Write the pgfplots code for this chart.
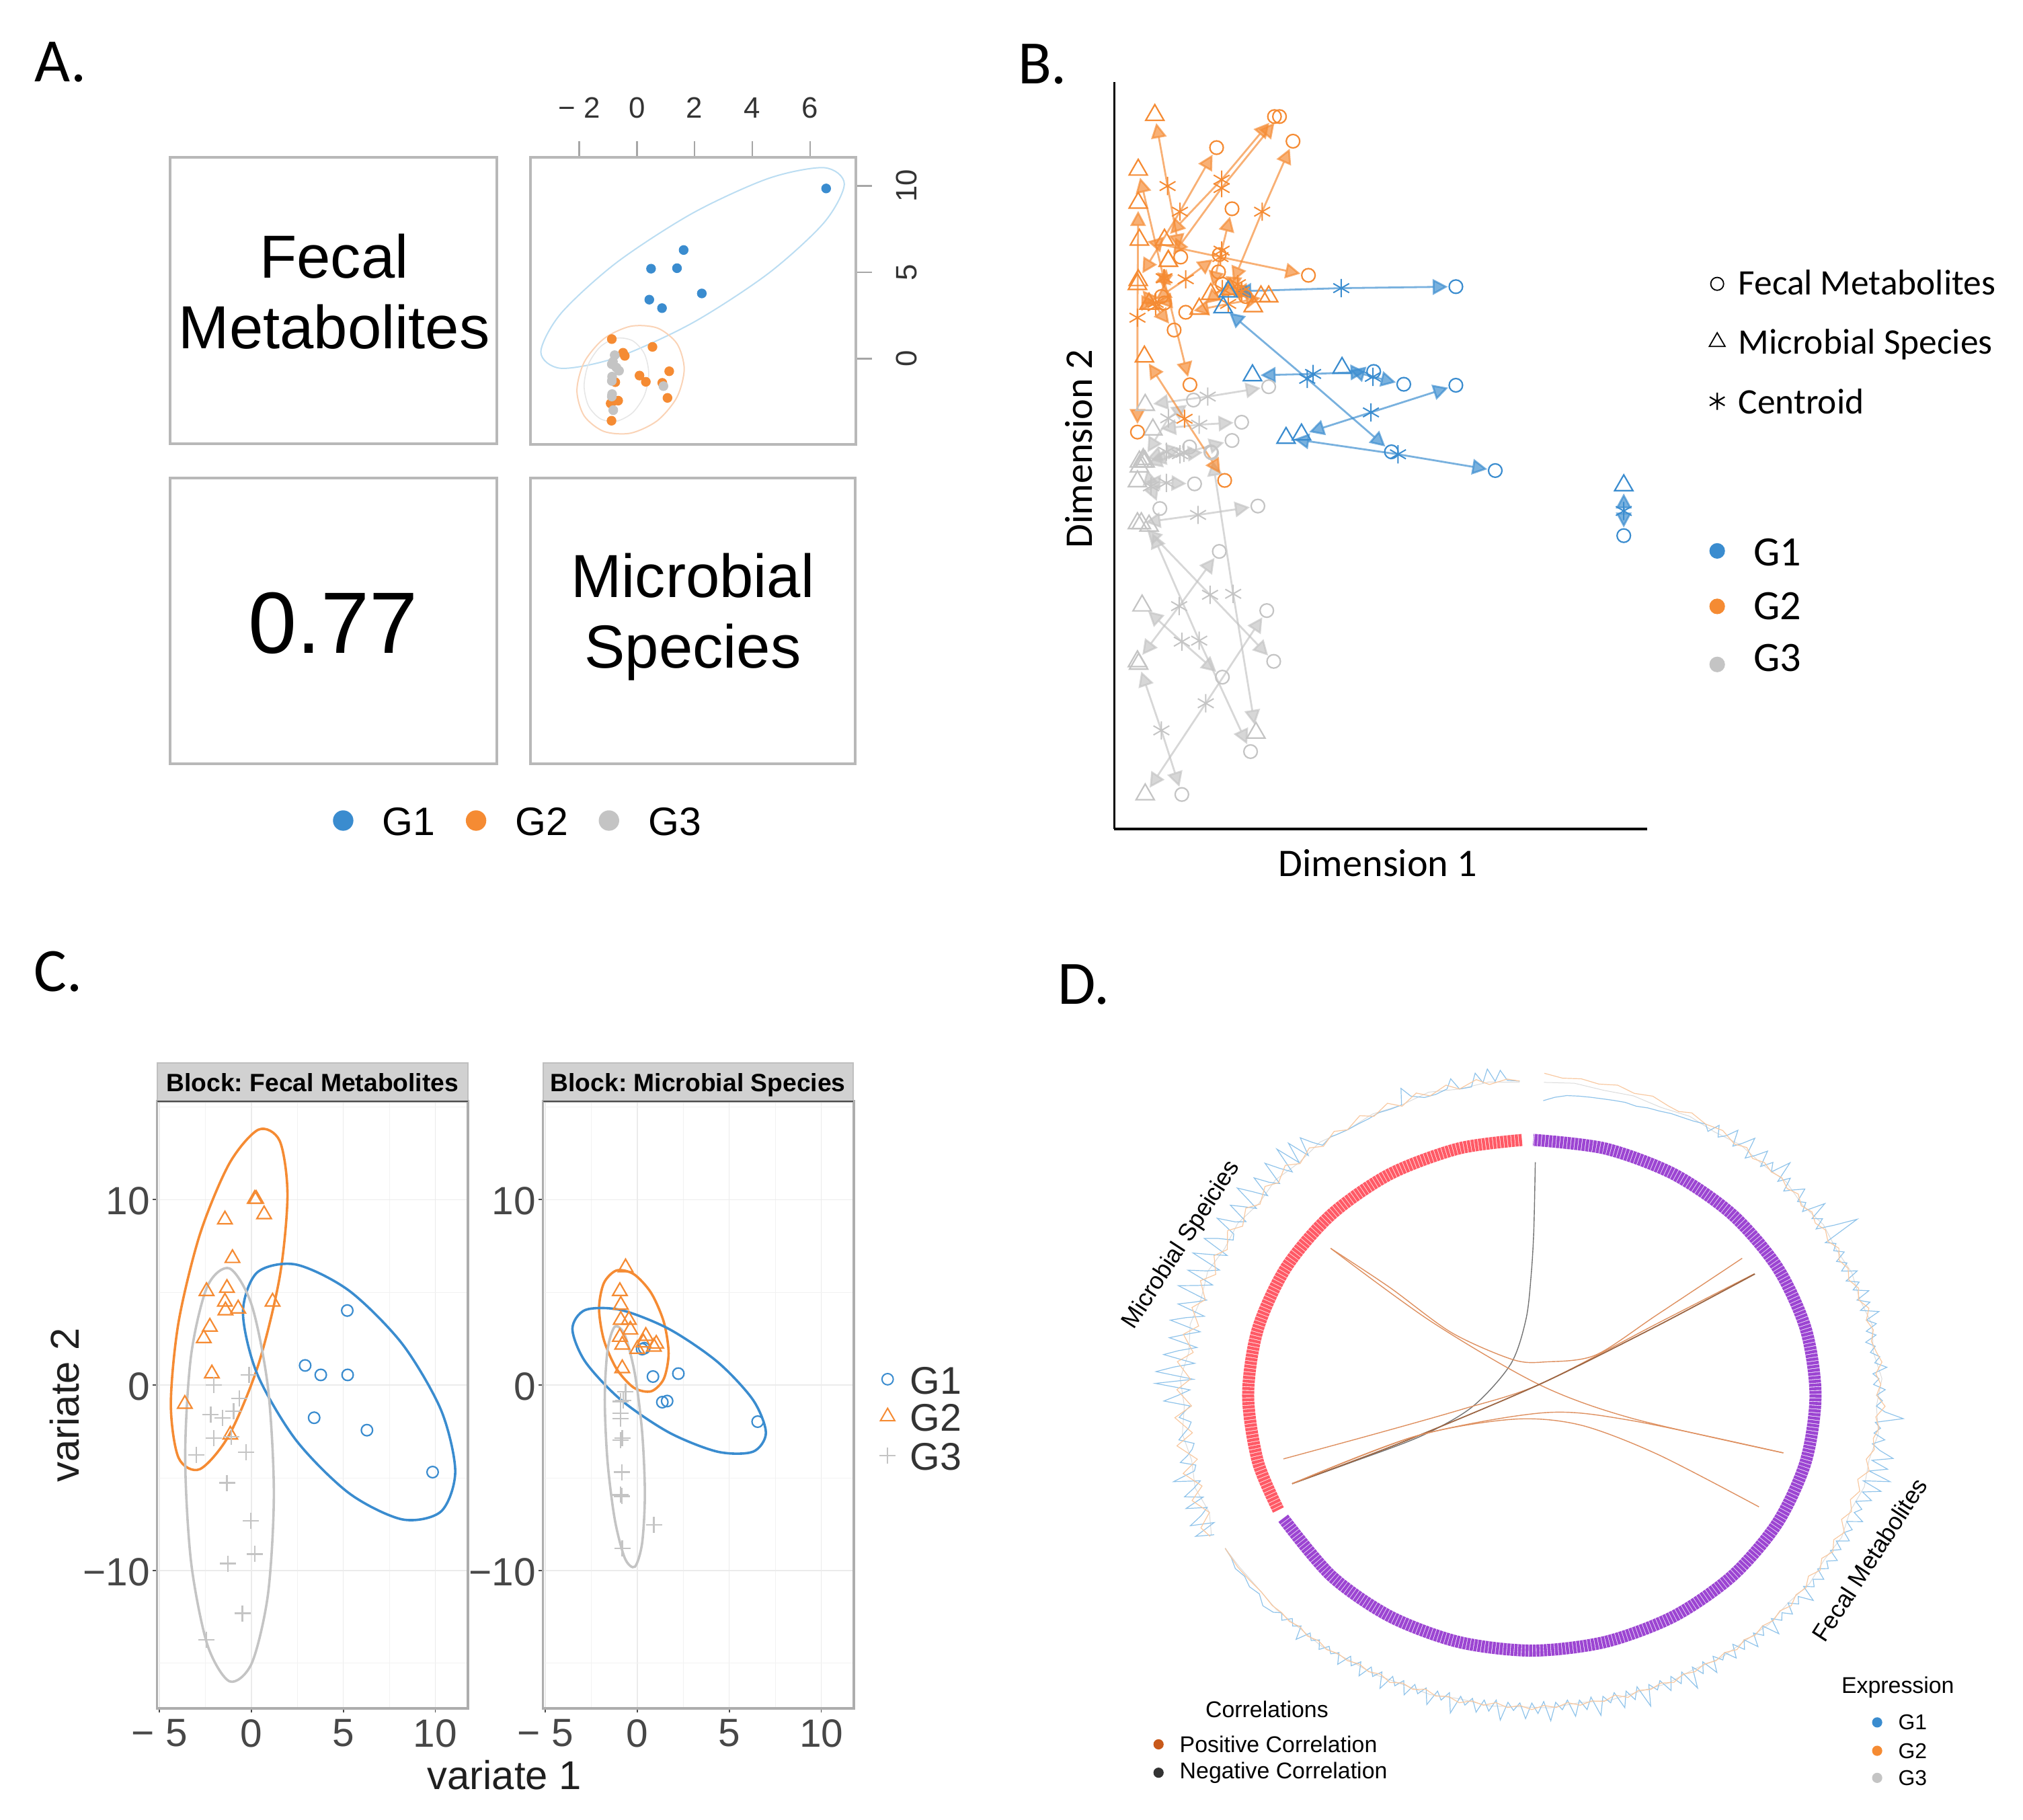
\documentclass[border=0pt]{standalone}
\usepackage{fontspec}
\usepackage{pgfplots}
\pgfplotsset{compat=1.18}
\usetikzlibrary{arrows.meta}
\setmainfont{Liberation Sans}
\newfontfamily\carlito{Carlito}
\definecolor{cb}{HTML}{3A8CCF}
\definecolor{co}{HTML}{F58B33}
\definecolor{cg}{HTML}{C4C4C4}
\definecolor{lb}{HTML}{BBDDF2}
\definecolor{lo}{HTML}{FAD3B6}
\definecolor{lg}{HTML}{E6E6E6}
\definecolor{chord}{HTML}{DE9060}
\definecolor{cpos}{HTML}{C8591A}
\definecolor{tb}{HTML}{8FC3EA}
\definecolor{to}{HTML}{F8C8A0}
\definecolor{ringr}{HTML}{FF5A66}
\definecolor{ringp}{HTML}{9C45D2}
\newcommand{\fs}[1]{\fontsize{#1}{#1}\selectfont}
\newcommand{\bseg}[4]{%
 \addplot[#1,line width=.7bp,opacity=.68,shorten <=3bp,shorten >=3bp,{Triangle[length=5.6bp,width=5.8bp]}-{Triangle[length=5.6bp,width=5.8bp]}] coordinates {#2 #3 #4};
 \addplot[#1,only marks,mark=triangle,mark size=3.9bp,mark options={line width=.55bp,fill=none}] coordinates {#2};
 \addplot[#1,only marks,mark=asterisk,mark size=3.4bp,mark options={line width=.5bp}] coordinates {#3};
 \addplot[#1,only marks,mark=o,mark size=2.5bp,mark options={line width=.55bp,fill=none}] coordinates {#4};
}
\pgfplotsset{
 facet/.style={scale only axis,width=115.6bp,height=225.75bp,xmin=-5.13,xmax=11.77,ymin=-17.43,ymax=15.3,
  xtick={-5,0,5,10},xticklabels={−\;5,0,5,10},ytick={-10,0,10},yticklabels={−10,0,10},
  minor xtick={-2.5,2.5,7.5},minor ytick={-15,-5,5,15},grid=both,
  major grid style={color=black!8,line width=.35bp},minor grid style={color=black!5,line width=.25bp},
  tick align=outside,xtick pos=bottom,ytick pos=left,major tick length=1.6bp,minor tick length=0pt,
  tick style={color=black!70,line width=.4bp},
  axis line style={color=black!32,line width=.9bp},
  xticklabel style={font=\fs{14.7},text=black!72,yshift=1bp},
  yticklabel style={font=\fs{14.7},text=black!72,xshift=2.5bp,yshift=-.5bp},clip=false},
 ell/.style={smooth cycle,line width=.9bp,mark=none},
 pc/.style={only marks,mark=o,color=cb,mark size=2.1bp,mark options={line width=.55bp,fill=none}},
 pt/.style={only marks,mark=triangle,color=co,mark size=3.1bp,mark options={line width=.55bp,fill=none}},
 pp/.style={only marks,mark=+,color=cg,mark size=3bp,mark options={line width=.55bp}},
}
\begin{document}
\frenchspacing
\begin{tikzpicture}
\path[use as bounding box] (0,0) rectangle (752.25bp,-676.75bp);
% ---------- A
\begin{axis}[at={(197.25bp,-58.5bp)},anchor=north west,scale only axis,width=121bp,height=106.75bp,
 xmin=-3.69,xmax=7.59,ymin=-4.95,ymax=11.65,xtick={-2,0,2,4,6},xticklabels={−\;2,0,2,4,6},ytick={0,5,10},yticklabels={0,5,10},
 xtick pos=top,xticklabel pos=top,ytick pos=right,yticklabel pos=right,tick align=outside,major tick length=6bp,
 tick style={color=black!35,line width=.6bp},axis line style={color=black!28,line width=1bp},
 xticklabel style={font=\fs{11},text=black!80,yshift=5bp},
 yticklabel style={font=\fs{11},text=black!80,rotate=90,anchor=north,yshift=-5.5bp},clip=false]
\addplot[ell,color=lb,line width=.5bp] coordinates {(7.19,10.11)(6.49,11.05)(4.56,10.43)(1.93,8.42)(-.70,5.57)(-2.63,2.63)(-3.33,.39)(-2.63,-.55)(-.70,.075)(1.93,2.08)(4.56,4.94)(6.49,7.88)};
\addplot[ell,color=lo,line width=.5bp] coordinates {(1.64,-.585)(1.39,.875)(.71,1.78)(-.22,1.88)(-1.15,1.155)(-1.83,-.205)(-2.08,-1.835)(-1.83,-3.295)(-1.15,-4.195)(-.22,-4.30)(.71,-3.575)(1.39,-2.215)};
\addplot[ell,color=lg,line width=.4bp] coordinates {(.41,-.86)(.26,.29)(-.15,1.045)(-.71,1.19)(-1.27,.695)(-1.68,-.31)(-1.83,-1.56)(-1.68,-2.71)(-1.27,-3.465)(-.71,-3.61)(-.15,-3.115)(.26,-2.11)};
\addplot[only marks,mark=*,color=cb,mark size=1.6bp] coordinates {(6.56,9.85)(1.62,6.29)(.49,5.21)(1.39,5.24)(2.25,3.78)(.43,3.42)(.87,2.93)};
\addplot[only marks,mark=*,color=co,mark size=1.6bp] coordinates {(-.87,1.14)(.54,.69)(-.48,.35)(-.42,.17)(1.12,-.72)(.09,-.97)(.31,-1.33)(.88,-1.39)(-.75,-1.35)(1.06,-2.26)(-.65,-2.42)(-.83,-2.46)(-.91,-2.58)(-.88,-3.58)};
\addplot[only marks,mark=*,color=cg,mark size=1.6bp] coordinates {(-.77,.21)(-.83,-.17)(-.87,-.31)(-.62,-.69)(-.71,-.51)(-.86,-1.03)(-.87,-1.28)(-.86,-2.04)(-.87,-2.18)(-.82,-2.97)(.92,-1.58)};
\end{axis}
% ---------- B
\begin{axis}[at={(414.35bp,-30.5bp)},anchor=north west,scale only axis,width=198.05bp,height=277.75bp,
 xmin=100,xmax=1480,ymin=30,ymax=1545,y dir=reverse,axis x line=bottom,axis y line=left,
 axis line style={-,color=black,line width=.8bp},xtick=\empty,ytick=\empty,clip=false]
\bseg{cg}{(180,685)}{(342,668)}{(500,648)}
\bseg{cg}{(200,735)}{(320,725)}{(430,720)}
\bseg{cg}{(165,800)}{(235,780)}{(295,770)}
\bseg{cg}{(165,810)}{(280,782)}{(405,757)}
\bseg{cg}{(175,795)}{(240,712)}{(305,675)}
\bseg{cg}{(160,840)}{(235,843)}{(308,845)}
\bseg{cg}{(180,800)}{(195,850)}{(218,895)}
\bseg{cg}{(160,925)}{(317,908)}{(472,890)}
\bseg{cg}{(175,800)}{(270,785)}{(350,780)}
\bseg{cg}{(160,1205)}{(268,1093)}{(372,982)}
\bseg{cg}{(172,1092)}{(275,1165)}{(380,1237)}
\bseg{cg}{(170,925)}{(348,1070)}{(513,1205)}
\bseg{cg}{(190,930)}{(320,1163)}{(453,1388)}
\bseg{cg}{(163,1210)}{(222,1345)}{(275,1475)}
\bseg{cg}{(180,1475)}{(337,1290)}{(495,1102)}
\bseg{cg}{(467,1350)}{(408,1068)}{(352,782)}
\bseg{co}{(205,97)}{(238,241)}{(272,385)}
\bseg{co}{(162,208)}{(228,428)}{(296,644)}
\bseg{co}{(162,275)}{(160,508)}{(160,740)}
\bseg{co}{(178,587)}{(282,713)}{(386,838)}
\bseg{co}{(165,350)}{(375,385)}{(603,422)}
\bseg{co}{(230,350)}{(378,228)}{(515,100)}
\bseg{co}{(162,432)}{(270,293)}{(365,163)}
\bseg{co}{(240,393)}{(378,245)}{(528,100)}
\bseg{co}{(190,480)}{(285,430)}{(372,380)}
\bseg{co}{(400,450)}{(483,293)}{(563,150)}
\bseg{co}{(350,460)}{(378,372)}{(405,287)}
\bseg{co}{(160,440)}{(207,485)}{(255,533)}
\bseg{co}{(500,465)}{(395,480)}{(285,497)}
\bseg{co}{(460,485)}{(420,440)}{(370,415)}
\bseg{co}{(480,465)}{(430,455)}{(380,440)}
\bseg{co}{(320,490)}{(380,450)}{(440,465)}
\bseg{co}{(190,480)}{(207,478)}{(230,478)}
\bseg{co}{(240,393)}{(230,428)}{(222,465)}
\bseg{cb}{(382,487)}{(600,632)}{(818,780)}
\bseg{cb}{(395,455)}{(688,448)}{(985,445)}
\bseg{cb}{(458,625)}{(615,622)}{(772,617)}
\bseg{cb}{(690,610)}{(770,628)}{(850,643)}
\bseg{cb}{(585,745)}{(765,700)}{(985,645)}
\bseg{cb}{(545,752)}{(835,785)}{(1087,818)}
\bseg{cb}{(1420,848)}{(1420,900)}{(1420,950)}
\end{axis}
% ---------- C left
\begin{axis}[facet,at={(58.4bp,-409.5bp)},anchor=north west]
\addplot[ell,color=co] coordinates {(1.96,10.26)(1.54,13.16)(.38,13.77)(-1.21,11.93)(-2.80,8.13)(-3.96,3.40)(-4.38,-1.02)(-3.96,-3.92)(-2.80,-4.53)(-1.21,-2.69)(.38,1.11)(1.54,5.85)};
\addplot[ell,color=cb] coordinates {(11.08,-4.65)(10.31,-1.35)(8.2,2.22)(5.31,5.09)(2.42,6.5)(.31,6.07)(-.46,3.91)(.31,.61)(2.42,-2.96)(5.31,-5.83)(8.2,-7.24)(10.31,-6.81)};
\addplot[ell,color=cg] coordinates {(1.22,-5.85)(.90,-.14)(.02,4.30)(-1.19,6.29)(-2.40,5.31)(-3.28,1.6)(-3.6,-3.83)(-3.28,-9.54)(-2.40,-13.98)(-1.19,-15.97)(.02,-14.99)(.90,-11.28)};
\addplot[pc] coordinates {(5.21,4.02)(2.92,1.06)(3.77,.55)(5.23,.55)(3.41,-1.76)(6.28,-2.43)(9.85,-4.69)};
\addplot[pt] coordinates {(.18,10.03)(.26,10.03)(-1.44,8.92)(.69,9.2)(-1.03,6.84)(-2.44,5.06)(-1.33,5.23)(-1.44,4.49)(-1.41,4.02)(-.72,4.12)(1.15,4.49)(-2.26,3.14)(-2.59,2.52)(-2.15,.62)(-3.62,-1.02)(-1.15,-2.68)};
\addplot[pp] coordinates {(-.13,.55)(-2.05,0)(-.67,-.72)(-.97,-1.41)(-2.21,-1.6)(-1.56,-1.76)(-2.05,-2.87)(-1.1,-2.8)(-3,-3.75)(-.28,-3.63)(-1.33,-5.27)(-.03,-7.31)(.18,-9.11)(-1.28,-9.62)(-.49,-12.3)(-2.44,-13.73)};
\end{axis}
% ---------- C right
\begin{axis}[facet,at={(201.9bp,-409.5bp)},anchor=north west]
\addplot[ell,color=co] coordinates {(1.70,1.71)(1.44,3.40)(.75,4.97)(-.19,5.98)(-1.13,6.18)(-1.82,5.5)(-2.08,4.13)(-1.82,2.44)(-1.13,.88)(-.19,-.14)(.75,-.335)(1.44,.34)};
\addplot[ell,color=cb] coordinates {(6.99,-2.57)(6.29,-.80)(4.36,1.25)(1.73,3.02)(-.90,4.05)(-2.83,4.05)(-3.53,3.03)(-2.83,1.26)(-.90,-.79)(1.73,-2.56)(4.36,-3.59)(6.29,-3.59)};
\addplot[ell,color=cg] coordinates {(.41,-5.86)(.26,-2.52)(-.135,.61)(-.68,2.69)(-1.225,3.15)(-1.62,1.88)(-1.77,-.78)(-1.62,-4.12)(-1.225,-7.25)(-.68,-9.33)(-.135,-9.79)(.26,-8.52)};
\addplot[pc] coordinates {(.85,.46)(2.23,.62)(.26,1.94)(1.36,-.92)(1.62,-.86)(6.54,-1.97)(.38,1.99)};
\addplot[pt] coordinates {(-.64,6.34)(-.95,5.06)(-.9,4.32)(-.9,3.51)(-.46,3.51)(-.38,2.98)(-.95,2.59)(-.82,2.17)(-.82,.9)(.46,2.64)(.33,2.29)(0,1.94)(1.03,2.22)(.9,2.06)};
\addplot[pp] coordinates {(-.64,-.37)(-.9,-.88)(-.9,-1.53)(-.9,-1.8)(-.82,-2.87)(-.9,-2.96)(-.85,-4.69)(-.9,-5.92)(-.85,-5.99)(.9,-7.54)(-.82,-8.81)(-.77,-.83)};
\end{axis}
% ---------- D
\begin{axis}[at={(418.75bp,-383bp)},anchor=north west,scale only axis,width=301.7bp,height=271.6bp,
 xmin=-1.4,xmax=1.4,ymin=-1.4,ymax=1.4,hide axis,clip=false]
% ring
\addplot[smooth,mark=none,color=ringr,line width=4.5bp,dash pattern=on 1.15bp off .22bp,data cs=polar] coordinates {(92,.979)(105,.979)(120,.979)(135,.979)(150,.979)(165,.979)(180,.979)(195,.979)(206.7,.979)};
\addplot[smooth,mark=none,color=ringp,line width=4.5bp,dash pattern=on 1.15bp off .22bp,data cs=polar] coordinates {(208.8,.979)(225,.979)(240,.979)(255,.979)(270,.979)(285,.979)(300,.979)(315,.979)(330,.979)(345,.979)(360,.979)(375,.979)(390,.979)(405,.979)(420,.979)(435,.979)(449.7,.979)};
% chords
\addplot[smooth,mark=none,color=black!55,line width=.35bp] coordinates {(.012,.893)(.007,.637)(-.002,.465)(-.02,.292)(-.073,.119)(-.206,-.045)(-.383,-.157)(-.632,-.261)(-.827,-.339)};
\addplot[smooth,mark=none,color=chord,line width=.35bp] coordinates {(-.694,.563)(-.49,.413)(-.277,.24)(-.064,.136)(.051,.128)(.22,.154)(.433,.309)(.726,.525)};
\addplot[smooth,mark=none,color=chord,line width=.35bp] coordinates {(-.694,.563)(-.348,.283)(.025,.041)(.344,-.088)(.868,-.221)};
\addplot[smooth,mark=none,color=chord,line width=.35bp] coordinates {(-.857,-.244)(-.543,-.149)(-.241,-.054)(.025,.041)(.433,.275)(.767,.465)};
\addplot[smooth,mark=none,color=chord!70!black,line width=.45bp] coordinates {(-.827,-.339)(-.454,-.183)(.025,.041)(.433,.266)(.77,.465)};
\addplot[smooth,mark=none,color=chord,line width=.35bp] coordinates {(-.827,-.339)(-.401,-.157)(.043,-.067)(.344,-.097)(.868,-.221)};
\addplot[smooth,mark=none,color=chord,line width=.35bp] coordinates {(-.827,-.339)(-.401,-.157)(-.064,-.092)(.167,-.114)(.433,-.226)(.784,-.428)};
% expression, grey
\addplot[mark=none,color=black!14,line width=.25bp,data cs=polar] coordinates {(88,1.2)(83,1.205)(78,1.195)(73,1.2)(68,1.19)(63,1.2)(58,1.19)(53,1.2)(48,1.19)(43,1.2)(38,1.185)(33,1.2)(28,1.19)(23,1.2)(18,1.19)(13,1.205)(8,1.19)(3,1.21)(-2,1.19)(-7,1.205)(-12,1.19)(-17,1.2)(-22,1.185)(-27,1.2)(-32,1.19)(-37,1.2)(-42,1.19)(-47,1.2)(-52,1.195)(-57,1.2)(-62,1.19)(-67,1.2)(-72,1.195)(-77,1.2)(-82,1.19)(-87,1.2)(-92,1.195)(-97,1.2)(-102,1.19)(-107,1.2)(-112,1.195)(-117,1.2)(-122,1.195)(-127,1.205)(-132,1.2)(-137,1.205)(-142,1.2)(-147,1.205)(-151,1.21)};
\addplot[mark=none,color=black!14,line width=.25bp,data cs=polar] coordinates {(92,1.2)(97,1.21)(102,1.2)(107,1.215)(112,1.2)(117,1.21)(122,1.2)(127,1.215)(132,1.2)(137,1.21)(142,1.195)(147,1.21)(152,1.2)(157,1.215)(162,1.2)(167,1.21)(172,1.195)(177,1.215)(182,1.2)(187,1.215)(192,1.2)(197,1.215)(202,1.2)(206,1.23)};
% expression, blue
\addplot[mark=none,color=tb,line width=.3bp,data cs=polar] coordinates {(88,1.13)(86,1.145)(84,1.155)(82,1.158)(80,1.16)(78,1.162)(76,1.165)(74,1.168)(72,1.165)(70,1.172)(68,1.175)(66,1.182)(64,1.185)(62,1.19)(60,1.2)(59,1.18)(58,1.22)(57,1.18)(56,1.2)(55,1.24)(54,1.18)(53,1.21)(52,1.25)(51,1.17)(50,1.2)(49,1.24)(48,1.18)(47,1.22)(46,1.19)(45,1.26)(44,1.18)(43,1.22)(42,1.17)(41,1.2)(40,1.23)(39,1.18)(38,1.2)(37,1.17)(36,1.25)(35,1.18)(34,1.21)(33,1.17)(32,1.23)(31,1.31)(30,1.17)(29,1.2)(28,1.18)(27,1.21)(26,1.17)(25,1.2)(24,1.17)(23,1.22)(22,1.17)(21,1.21)(20,1.18)(19,1.23)(18,1.18)(17,1.22)(16,1.18)(15,1.24)(14,1.19)(13,1.22)(12,1.18)(11,1.21)(10,1.17)(9,1.2)(8,1.18)(7,1.21)(6,1.19)(5,1.23)(4,1.18)(3,1.2)(2,1.18)(1,1.22)(0,1.19)(-1,1.21)(-2,1.19)(-3,1.22)(-4,1.285)(-5,1.19)(-6,1.21)(-7,1.19)(-8,1.23)(-9,1.19)(-10,1.22)(-11,1.27)(-12,1.2)(-13,1.26)(-14,1.2)(-15,1.28)(-16,1.19)(-17,1.26)(-18,1.2)(-19,1.24)(-20,1.19)(-21,1.22)(-22,1.2)(-23,1.24)(-24,1.19)(-25,1.22)(-26,1.2)(-27,1.23)(-28,1.19)(-29,1.22)(-30,1.19)(-31,1.23)(-32,1.2)(-33,1.22)(-34,1.19)(-35,1.23)(-36,1.2)(-37,1.22)(-38,1.19)(-39,1.25)(-40,1.2)(-41,1.22)(-42,1.19)(-43,1.23)(-44,1.2)(-45,1.22)(-46,1.19)(-47,1.25)(-48,1.19)(-49,1.22)(-50,1.19)(-51,1.24)(-52,1.19)(-53,1.22)(-54,1.18)(-55,1.23)(-56,1.19)(-57,1.21)(-58,1.18)(-59,1.24)(-60,1.18)(-61,1.22)(-62,1.18)(-63,1.26)(-64,1.18)(-65,1.22)(-66,1.18)(-67,1.23)(-68,1.18)(-69,1.21)(-70,1.18)(-71,1.26)(-72,1.175)(-73,1.22)(-74,1.18)(-75,1.24)(-76,1.175)(-77,1.21)(-78,1.18)(-79,1.25)(-80,1.175)(-81,1.22)(-82,1.18)(-83,1.24)(-84,1.175)(-85,1.21)(-86,1.18)(-87,1.25)(-88,1.175)(-89,1.22)(-90,1.18)(-91,1.24)(-92,1.18)(-93,1.21)(-94,1.18)(-95,1.25)(-96,1.175)(-97,1.22)(-98,1.18)(-99,1.23)(-100,1.18)(-101,1.21)(-102,1.18)(-103,1.25)(-104,1.175)(-105,1.21)(-106,1.18)(-107,1.24)(-108,1.18)(-109,1.21)(-110,1.18)(-111,1.23)(-112,1.18)(-113,1.21)(-114,1.18)(-115,1.24)(-116,1.18)(-117,1.21)(-118,1.18)(-119,1.23)(-120,1.18)(-121,1.21)(-122,1.18)(-123,1.23)(-124,1.19)(-125,1.21)(-126,1.19)(-127,1.22)(-128,1.19)(-129,1.21)(-130,1.19)(-131,1.24)(-132,1.19)(-133,1.21)(-134,1.19)(-135,1.22)(-136,1.2)(-137,1.22)(-139,1.23)(-141,1.21)(-143,1.22)(-145,1.21)(-147,1.22)(-149,1.21)(-151,1.21)};
\addplot[mark=none,color=tb,line width=.3bp,data cs=polar] coordinates {(92,1.205)(94,1.21)(95,1.25)(96,1.21)(97,1.26)(98,1.21)(99,1.25)(100,1.2)(102,1.2)(103,1.245)(104,1.21)(106,1.2)(108,1.2)(110,1.22)(111,1.26)(112,1.2)(114,1.2)(116,1.205)(118,1.2)(120,1.2)(122,1.2)(124,1.205)(125,1.21)(127,1.2)(128,1.23)(129,1.27)(130,1.2)(131,1.28)(132,1.2)(133,1.29)(134,1.19)(135,1.23)(136,1.28)(137,1.19)(138,1.22)(139,1.27)(140,1.19)(141,1.24)(142,1.29)(143,1.19)(144,1.23)(145,1.27)(146,1.19)(147,1.22)(148,1.28)(149,1.2)(150,1.19)(151,1.24)(152,1.28)(153,1.18)(154,1.23)(155,1.29)(156,1.18)(157,1.22)(158,1.28)(159,1.18)(160,1.23)(161,1.29)(162,1.18)(163,1.22)(164,1.27)(165,1.17)(166,1.23)(167,1.28)(168,1.17)(169,1.22)(170,1.27)(171,1.17)(172,1.23)(173,1.28)(174,1.17)(175,1.24)(176,1.3)(177,1.17)(178,1.3)(179,1.18)(180,1.22)(181,1.27)(182,1.18)(183,1.2)(184,1.22)(185,1.18)(186,1.19)(187,1.21)(188,1.23)(189,1.18)(190,1.19)(191,1.21)(192,1.24)(193,1.19)(194,1.2)(195,1.28)(196,1.19)(197,1.22)(198,1.26)(199,1.2)(200,1.27)(201,1.2)(202,1.23)(203,1.28)(204,1.2)(205,1.28)(206,1.22)};
% expression, orange
\addplot[mark=none,color=to,line width=.3bp,data cs=polar] coordinates {(88,1.235)(85,1.22)(82,1.225)(79,1.215)(76,1.225)(73,1.21)(70,1.22)(67,1.205)(65,1.2)(63,1.215)(60,1.2)(57,1.21)(54,1.19)(52,1.205)(50,1.185)(48,1.2)(46,1.19)(44,1.2)(42,1.185)(40,1.2)(38,1.18)(36,1.195)(34,1.18)(32,1.195)(30,1.18)(28,1.2)(26,1.18)(24,1.195)(22,1.18)(20,1.2)(18,1.185)(16,1.21)(14,1.19)(12,1.205)(10,1.19)(8,1.2)(6,1.215)(4,1.19)(2,1.205)(0,1.19)(-2,1.22)(-4,1.19)(-6,1.205)(-8,1.19)(-10,1.2)(-12,1.18)(-14,1.2)(-16,1.17)(-18,1.19)(-20,1.17)(-22,1.19)(-24,1.17)(-26,1.2)(-28,1.18)(-30,1.2)(-32,1.18)(-34,1.2)(-36,1.18)(-38,1.2)(-40,1.19)(-42,1.205)(-44,1.19)(-46,1.2)(-48,1.19)(-50,1.2)(-52,1.19)(-54,1.205)(-56,1.19)(-58,1.2)(-60,1.19)(-62,1.2)(-64,1.19)(-66,1.205)(-68,1.19)(-70,1.2)(-72,1.19)(-74,1.205)(-76,1.185)(-78,1.2)(-80,1.19)(-82,1.2)(-84,1.185)(-86,1.2)(-88,1.19)(-90,1.205)(-92,1.19)(-94,1.2)(-96,1.185)(-98,1.2)(-100,1.19)(-102,1.205)(-104,1.19)(-106,1.2)(-108,1.185)(-110,1.2)(-112,1.19)(-114,1.205)(-116,1.19)(-118,1.2)(-120,1.19)(-122,1.2)(-124,1.195)(-126,1.205)(-128,1.195)(-130,1.205)(-132,1.195)(-134,1.205)(-136,1.2)(-138,1.205)(-141,1.2)(-144,1.205)(-147,1.21)(-151,1.21)};
\addplot[mark=none,color=to,line width=.3bp,data cs=polar] coordinates {(92,1.205)(94,1.215)(97,1.2)(99,1.225)(102,1.2)(104,1.225)(107,1.2)(109,1.225)(112,1.195)(114,1.225)(117,1.2)(119,1.225)(122,1.2)(124,1.22)(127,1.195)(129,1.22)(132,1.195)(134,1.225)(137,1.195)(139,1.22)(142,1.19)(144,1.22)(147,1.19)(149,1.225)(152,1.19)(154,1.22)(157,1.185)(159,1.225)(162,1.185)(164,1.22)(167,1.18)(169,1.225)(172,1.18)(174,1.23)(177,1.18)(179,1.225)(182,1.175)(184,1.235)(187,1.18)(189,1.24)(192,1.18)(194,1.24)(197,1.19)(199,1.24)(202,1.2)(204,1.25)(206,1.235)};
\end{axis}
% ---------- annotations, in coordinates of a 1568-wide page
\begin{scope}[x=.47975bp,y=-.47975bp]
 % panel letters
 \node[font=\carlito\fs{23}] at (47,48) {A.};
 \node[font=\carlito\fs{23}] at (808,50) {B.};
 \node[font=\carlito\fs{23}] at (45,753) {C.};
 \node[font=\carlito\fs{23}] at (840,763) {D.};
 % A boxes
 \draw[black!28,line width=1bp] (132,122) rectangle (385,344);
 \draw[black!28,line width=1bp] (132,370.5) rectangle (385,592);
 \draw[black!28,line width=1bp] (411,370.5) rectangle (663,592);
 \node[align=center,font=\fontsize{22.7}{26.4}\selectfont] at (259,226) {Fecal\\Metabolites};
 \node[font=\fs{32.5}] at (258,483) {0.77};
 \node[align=center,font=\fontsize{22.7}{26.4}\selectfont] at (537,478) {Microbial\\Species};
 % A legend
 \fill[cb] (266,636) circle (3.8bp); \node[font=\fs{14.8},anchor=west,inner sep=0] at (296,637) {G1};
 \fill[co] (369,636) circle (3.8bp); \node[font=\fs{14.8},anchor=west,inner sep=0] at (399,637) {G2};
 \fill[cg] (472,636) circle (3.8bp); \node[font=\fs{14.8},anchor=west,inner sep=0] at (502,637) {G3};
 % B texts
 \node[font=\carlito\fs{14.6},rotate=90] at (836,348) {Dimension 2};
 \node[font=\carlito\fs{14.6}] at (1068,669) {Dimension 1};
 \path plot[only marks,mark=o,mark size=2.4bp,mark options={line width=.45bp}] coordinates {(1331,220)};
 \path plot[only marks,mark=triangle,mark size=3.4bp,mark options={line width=.45bp}] coordinates {(1331,265)};
 \path plot[only marks,mark=asterisk,mark size=3.2bp,mark options={line width=.55bp}] coordinates {(1331,311)};
 \node[font=\carlito\fs{13.4},anchor=west,inner sep=0] at (1347,219) {Fecal Metabolites};
 \node[font=\carlito\fs{13.4},anchor=west,inner sep=0] at (1347,267) {Microbial Species};
 \node[font=\carlito\fs{13.4},anchor=west,inner sep=0] at (1347,311) {Centroid};
 \fill[cb] (1331,427) circle (2.9bp); \node[font=\carlito\fs{15.6},anchor=west,inner sep=0] at (1359,428) {G1};
 \fill[co] (1331,470) circle (2.9bp); \node[font=\carlito\fs{15.6},anchor=west,inner sep=0] at (1359,470) {G2};
 \fill[cg] (1331,515) circle (2.9bp); \node[font=\carlito\fs{15.6},anchor=west,inner sep=0] at (1359,510) {G3};
 % C strips
 \draw[fill=black!18,draw=black!25,line width=.5bp] (121.8,824) rectangle (362.7,853.6);
 \draw[fill=black!18,draw=black!25,line width=.5bp] (420.9,824) rectangle (661.3,853.6);
 \draw[black!70,line width=.7bp] (121.8,853.6) -- (362.7,853.6);
 \draw[black!70,line width=.7bp] (420.9,853.6) -- (661.3,853.6);
 \node[font=\bfseries\fs{9.35},anchor=base] at (242.2,846) {Block: Fecal Metabolites};
 \node[font=\bfseries\fs{9.35},anchor=base] at (541,846) {Block: Microbial Species};
 \node[font=\fs{15},text=black!88] at (391,1376) {variate 1};
 \node[font=\fs{15},text=black!88,rotate=90] at (50,1089) {variate 2};
 \path[color=cb] plot[only marks,mark=o,mark size=2.1bp,mark options={line width=.5bp}] coordinates {(688,1069)};
 \path[color=co] plot[only marks,mark=triangle,mark size=3.1bp,mark options={line width=.5bp}] coordinates {(688,1098)};
 \path[color=cg] plot[only marks,mark=+,mark size=3bp,mark options={line width=.5bp}] coordinates {(688,1128)};
 \node[font=\fs{14.4},text=black!80,anchor=west,inner sep=0] at (705,1070) {G1};
 \node[font=\fs{14.4},text=black!80,anchor=west,inner sep=0] at (705,1099) {G2};
 \node[font=\fs{14.4},text=black!80,anchor=west,inner sep=0] at (705,1129) {G3};
 % D texts
 \node[font=\fs{9},rotate=57] at (916,965) {Microbial Speicies};
 \node[font=\fs{9},rotate=57] at (1449,1209) {Fecal Metabolites};
 \node[font=\fs{8.5}] at (982,1325) {Correlations};
 \fill[cpos] (898,1352) circle (1.9bp); \node[font=\fs{8.5},anchor=west,inner sep=0] at (914,1352) {Positive Correlation};
 \fill[black!80] (898,1374) circle (1.9bp); \node[font=\fs{8.5},anchor=west,inner sep=0] at (914,1374) {Negative Correlation};
 \node[font=\fs{8.5}] at (1471,1308) {Expression};
 \fill[cb] (1455,1335) circle (1.9bp); \node[font=\fs{8},anchor=west,inner sep=0] at (1471,1335) {G1};
 \fill[co] (1455,1357) circle (1.9bp); \node[font=\fs{8},anchor=west,inner sep=0] at (1471,1357) {G2};
 \fill[cg] (1455,1378) circle (1.9bp); \node[font=\fs{8},anchor=west,inner sep=0] at (1471,1378) {G3};
\end{scope}
\end{tikzpicture}
\end{document}
